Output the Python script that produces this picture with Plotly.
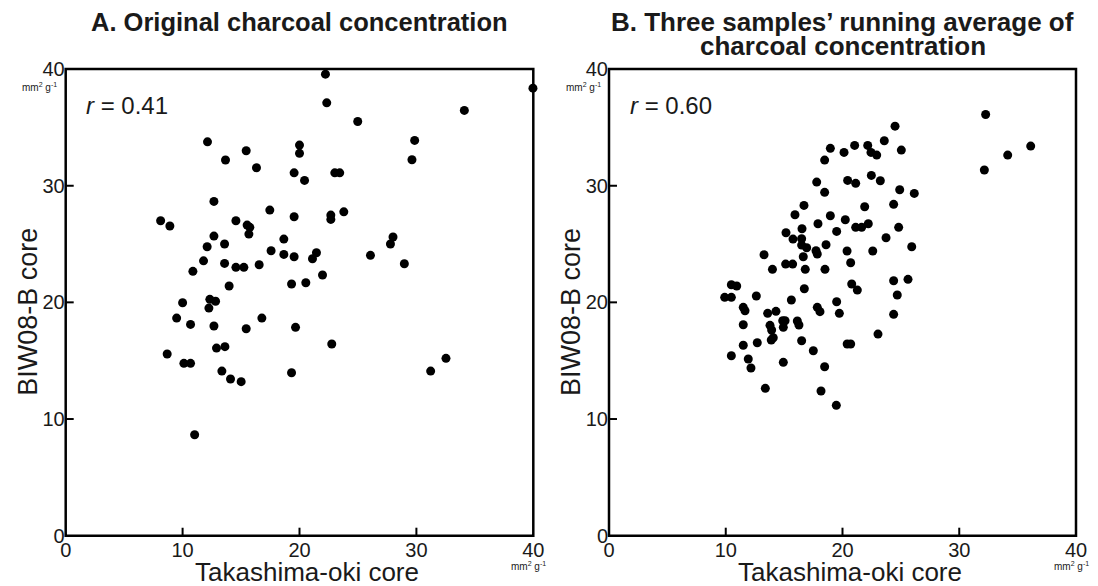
import plotly.graph_objects as go

# Panel A: original charcoal concentration (mm2 g-1)
a_takashima = [22.33, 24.98, 12.13, 15.44, 13.67, 20.0, 20.0, 16.32, 19.54, 20.43,
               23.02, 23.44, 12.68, 8.12, 8.91, 17.46, 19.54, 22.68, 22.68, 23.79,
               14.56, 15.52, 15.75, 15.67, 12.68, 12.1, 13.59, 18.66, 17.57, 18.66,
               19.54, 21.45, 21.11, 26.07, 11.79, 10.88, 13.59, 14.56, 15.24, 16.55,
               21.97, 13.98, 19.32, 20.54, 10.0, 12.33, 12.82, 12.25, 9.49, 10.68,
               12.68, 15.44, 16.78, 19.66, 22.76, 8.68, 12.9, 13.62, 10.11, 10.68,
               13.36, 14.1, 15.01, 19.32, 11.03, 22.22, 39.97, 34.1, 29.85, 29.62,
               28.0, 27.78, 28.97, 31.22, 32.53]
a_biw08 = [37.1, 35.5, 33.76, 32.99, 32.2, 33.48, 32.77, 31.54, 31.1, 30.45,
           31.1, 31.1, 28.65, 26.99, 26.54, 27.91, 27.34, 27.48, 27.11, 27.76,
           26.99, 26.62, 26.43, 25.85, 25.68, 24.77, 25.0, 25.42, 24.42, 24.11,
           23.91, 24.25, 23.74, 24.03, 23.56, 22.66, 23.34, 23.0, 23.0, 23.22,
           22.34, 21.4, 21.57, 21.68, 19.97, 20.26, 20.09, 19.51, 18.65, 18.11,
           17.97, 17.74, 18.65, 17.86, 16.43, 15.57, 16.08, 16.2, 14.77, 14.77,
           14.11, 13.43, 13.2, 13.97, 8.65, 39.56, 38.36, 36.45, 33.88, 32.22,
           25.6, 25.0, 23.31, 14.11, 15.2]

# Panel B: three samples' running average
b_takashima = [24.5, 23.58, 25.04, 22.16, 22.44, 22.93, 21.04, 20.13, 18.96, 18.47,
               17.79, 18.47, 20.44, 21.13, 22.47, 23.24, 24.9, 26.15, 24.38, 21.9,
               16.7, 15.93, 18.96, 20.24, 17.9, 21.13, 21.64, 22.21, 24.81, 16.53,
               15.16, 19.5, 15.76, 16.5, 16.5, 16.93, 16.64, 17.73, 17.84, 18.59,
               23.73, 25.93, 20.39, 22.59, 13.28, 15.13, 15.73, 14.0, 16.81, 18.5,
               20.7, 16.73, 20.79, 21.27, 24.38, 25.61, 10.48, 10.94, 24.69,
               9.91, 10.48, 12.62, 15.62, 19.5, 24.38, 11.5, 11.65, 13.59, 14.3,
               14.88, 15.08, 14.93, 16.13, 16.27, 17.84, 18.07, 19.73, 11.5,
               13.79, 13.93, 14.07, 13.9, 12.7, 11.5, 16.5, 17.5, 20.4, 20.7,
               23.04, 10.48, 11.93, 12.16, 14.93, 18.47, 13.39, 18.16, 19.47,
               32.26, 32.15, 34.15, 36.12]
b_biw08 = [35.1, 33.85, 33.05, 33.45, 32.85, 32.62, 33.45, 32.85, 33.2, 32.19,
           30.31, 29.43, 30.45, 30.2, 30.88, 30.42, 29.65, 29.34, 28.4, 28.19,
           28.31, 27.51, 27.42, 27.08, 26.74, 26.43, 26.43, 26.74, 26.43, 26.31,
           25.97, 26.08, 25.42, 25.45, 24.91, 24.68, 23.91, 24.42, 24.14, 24.94,
           25.54, 24.77, 24.4, 24.4, 24.08, 23.28, 23.28, 22.83, 22.83, 22.83,
           23.39, 21.17, 21.57, 21.05, 21.85, 21.97, 21.51, 21.4, 20.63,
           20.43, 20.43, 20.54, 20.2, 20.05, 18.97, 19.57, 19.28, 19.06, 19.23,
           18.42, 18.42, 17.86, 18.4, 18.06, 19.57, 19.2, 19.06, 18.08,
           18.03, 17.63, 16.97, 16.77, 16.54, 16.32, 16.71, 15.85, 16.43, 16.43,
           17.28, 15.42, 15.14, 14.37, 14.86, 14.48, 12.63, 12.4, 11.17,
           36.1, 31.34, 32.62, 33.39]

tick_vals = [0, 10, 20, 30, 40]
tick_text = ["0", "10", "20", "30", "40"]
title_lines = [["<b>A. Original charcoal concentration</b>"],
               ["<b>B. Three samples’ running average of</b>", "<b>charcoal concentration</b>"]]
title_sizes = [25.5, 26]
r_labels = ["<i>r</i> = 0.41", "<i>r</i> = 0.60"]
x_title = "Takashima-oki core"
y_title = "BIW08-B core"
unit = "mm<sup>2</sup> g<sup>-1</sup>"

FONT = "Liberation Sans, Arial, Helvetica, sans-serif"
TXT = "#1a1a1a"
W, H = 1098, 586

fig = go.Figure()
fig.add_trace(go.Scatter(x=a_takashima, y=a_biw08, mode="markers", xaxis="x", yaxis="y",
                         marker=dict(color="black", size=9), cliponaxis=False, showlegend=False))
fig.add_trace(go.Scatter(x=b_takashima, y=b_biw08, mode="markers", xaxis="x2", yaxis="y2",
                         marker=dict(color="black", size=9), cliponaxis=False, showlegend=False))

ax_common = dict(range=[0, 40], tickvals=tick_vals, ticktext=tick_text, showgrid=False,
                 zeroline=False, showline=False, automargin=False, ticks="",
                 tickfont=dict(family=FONT, size=20, color=TXT))

xdA = [65.7 / W, 533.3 / W]
xdB = [609 / W, 1076 / W]
yd = [(H - 535.7) / H, (H - 69) / H]
plot_w = xdA[1] * W - xdA[0] * W
plot_h = yd[1] * H - yd[0] * H
TICK_LEN = 8

fig.update_layout(
    template="none",
    width=W, height=H, autosize=False, margin=dict(l=0, r=0, t=0, b=0, pad=0),
    paper_bgcolor="white", plot_bgcolor="white",
    xaxis=dict(domain=xdA, anchor="y", **ax_common),
    yaxis=dict(domain=yd, anchor="x", **ax_common),
    xaxis2=dict(domain=xdB, anchor="y2", **ax_common),
    yaxis2=dict(domain=yd, anchor="x2", **ax_common),
    font=dict(family=FONT, color=TXT),
)

anns = []
shapes = []
for i, xd in enumerate([xdA, xdB]):
    c = (xd[0] + xd[1]) / 2
    xr = "x" if i == 0 else "x2"
    yr = "y" if i == 0 else "y2"
    for j, line in enumerate(title_lines[i]):
        anns.append(dict(x=c, y=(H - 22 - 24 * j) / H, xref="paper", yref="paper",
                         text=line, showarrow=False, xanchor="center", yanchor="middle",
                         font=dict(family=FONT, size=title_sizes[i], color=TXT)))
    anns.append(dict(x=1.6, y=36.9, xref=xr, yref=yr, text=r_labels[i], showarrow=False,
                     xanchor="left", yanchor="middle", font=dict(family=FONT, size=24, color=TXT)))
    anns.append(dict(x=c + 7 / W, y=(H - 572) / H, xref="paper", yref="paper", text=x_title,
                     showarrow=False, xanchor="center", yanchor="middle",
                     font=dict(family=FONT, size=26, color=TXT)))
    anns.append(dict(x=(xd[0] * W - 38) / W, y=(H - 312) / H, xref="paper", yref="paper",
                     text=y_title, textangle=-90, showarrow=False, xanchor="center",
                     yanchor="middle", font=dict(family=FONT, size=27, color=TXT)))
    anns.append(dict(x=(xd[0] * W - 26) / W, y=(H - 87) / H, xref="paper", yref="paper",
                     text=unit, showarrow=False, xanchor="center", yanchor="middle",
                     font=dict(family=FONT, size=10, color=TXT)))
    anns.append(dict(x=(xd[1] * W - 5) / W, y=(H - 566) / H, xref="paper", yref="paper",
                     text=unit, showarrow=False, xanchor="center", yanchor="middle",
                     font=dict(family=FONT, size=10, color=TXT)))
    # frame
    shapes.append(dict(type="rect", xref=xr + " domain", yref=yr + " domain",
                       x0=0, x1=1, y0=0, y1=1, line=dict(color="black", width=2.5),
                       fillcolor="rgba(0,0,0,0)", layer="above"))
    # inside tick marks on bottom and left axes
    for v in tick_vals[1:-1]:
        shapes.append(dict(type="line", xref=xr, yref=yr + " domain", x0=v, x1=v,
                           y0=0, y1=TICK_LEN / plot_h, line=dict(color="black", width=2),
                           layer="above"))
        shapes.append(dict(type="line", xref=xr + " domain", yref=yr, x0=0,
                           x1=TICK_LEN / plot_w, y0=v, y1=v,
                           line=dict(color="black", width=2), layer="above"))
fig.update_layout(annotations=anns, shapes=shapes)

fig.write_html("out.html")
